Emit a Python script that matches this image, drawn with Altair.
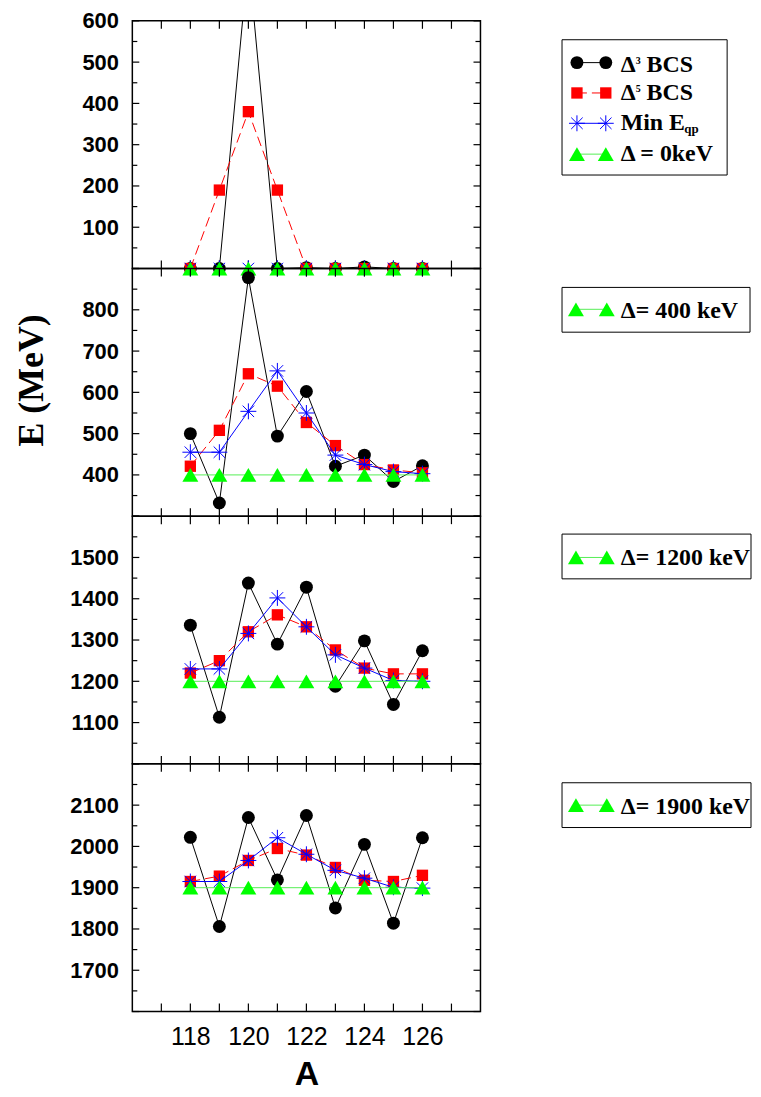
import altair as alt
import pandas as pd

# ---------------- data ----------------
A = [118, 119, 120, 121, 122, 123, 124, 125, 126]

# panel 1 : Delta = 0 keV
p1_d3 = [0, 0, 750, 0, 2, 0, 4, 0, 0]
p1_d5 = [0, 190, 380, 190, 0, 0, 0, 0, 0]
p1_min = [0, 0, 0, 0, 0, 0, 0, 0, 0]
p1_gap = [0, 0, 0, 0, 0, 0, 0, 0, 0]

# panel 2 : Delta = 400 keV
p2_d3 = [500, 332, 878, 494, 602, 421, 448, 384, 422]
p2_d5 = [421, 508, 645, 615, 527, 471, 425, 412, 405]
p2_min = [455, 455, 554, 652, 550, 448, 425, 408, 403]
p2_gap = [400, 400, 400, 400, 400, 400, 400, 400, 400]

# panel 3 : Delta = 1200 keV
p3_d3 = [1336, 1113, 1438, 1290, 1428, 1188, 1298, 1144, 1274]
p3_d5 = [1220, 1250, 1320, 1361, 1332, 1276, 1232, 1218, 1218]
p3_min = [1230, 1230, 1316, 1402, 1332, 1264, 1232, 1202, 1200]
p3_gap = [1200, 1200, 1200, 1200, 1200, 1200, 1200, 1200, 1200]

# panel 4 : Delta = 1900 keV
p4_d3 = [2022, 1806, 2070, 1919, 2075, 1851, 2005, 1814, 2021]
p4_d5 = [1915, 1928, 1966, 1995, 1979, 1949, 1918, 1915, 1930]
p4_min = [1915, 1915, 1966, 2021, 1981, 1942, 1923, 1901, 1899]
p4_gap = [1900, 1900, 1900, 1900, 1900, 1900, 1900, 1900, 1900]

domains = [[0, 600], [300, 900], [1000, 1600], [1600, 2200]]
y_labels = [[100, 200, 300, 400, 500, 600],
            [400, 500, 600, 700, 800],
            [1100, 1200, 1300, 1400, 1500],
            [1700, 1800, 1900, 2000, 2100]]
x_labels = [118, 120, 122, 124, 126]
x_domain = [116, 128]
gap_labels = ["\u0394 = 0keV", "\u0394= 400 keV", "\u0394= 1200 keV", "\u0394= 1900 keV"]

# ---------------- styling ----------------
W, H = 350, 249
STAR = "M-1,0L1,0M0,-1L0,1M-0.72,-0.72L0.72,0.72M-0.72,0.72L0.72,-0.72"
GREEN = "#00ff00"
GREEN_LINE = "#55ee55"
SERIF = "Liberation Serif"
SANS = "Liberation Sans"

series_style = {
    "d3": dict(line=dict(color="black", strokeWidth=1),
               pt=dict(shape="circle", filled=True, color="black", size=169, opacity=1)),
    "d5": dict(line=dict(color="red", strokeWidth=1, strokeDash=[10, 5]),
               pt=dict(shape="square", filled=True, color="red", size=130, opacity=1)),
    "min": dict(line=dict(color="blue", strokeWidth=1),
                pt=dict(shape=STAR, filled=False, color="blue", size=256, strokeWidth=1, opacity=1)),
    "gap": dict(line=dict(color=GREEN_LINE, strokeWidth=1),
                pt=dict(shape="triangle-up", filled=True, color=GREEN, size=256, opacity=1)),
}

one = pd.DataFrame({"k": [0]})


def legend_entry(kind, x1, x2, y):
    st = series_style[kind]
    layers = [alt.Chart(one).mark_rule(clip=False, **st["line"]).encode(
        x=alt.value(x1), x2=alt.value(x2), y=alt.value(y))]
    for xx in (x1, x2):
        layers.append(alt.Chart(one).mark_point(clip=False, **st["pt"]).encode(
            x=alt.value(xx), y=alt.value(y)))
    return layers


def text(t, x, y, size=24, font=SERIF, weight="bold"):
    return alt.Chart(one).mark_text(text=t, font=font, fontSize=size, fontWeight=weight,
                                    align="left", baseline="alphabetic", color="black",
                                    clip=False).encode(x=alt.value(x), y=alt.value(y))


def box(x1, x2, y1, y2):
    return alt.Chart(one).mark_rect(fill="white", stroke="black", strokeWidth=1,
                                    clip=False).encode(
        x=alt.value(x1), x2=alt.value(x2), y=alt.value(y1), y2=alt.value(y2))


def legend_main():
    L = [box(432, 598, 19, 155)]
    L += legend_entry("d3", 447, 476, 42)
    L += [text("\u0394", 491, 51), text("3", 506, 43, size=10), text("BCS", 517, 51)]
    L += legend_entry("d5", 447, 476, 72.5)
    L += [text("\u0394", 491, 80), text("5", 506, 72, size=10), text("BCS", 517, 80)]
    L += legend_entry("min", 447, 476, 103)
    L += [text("Min E", 491, 109.5), text("qp", 555, 113, size=13)]
    L += legend_entry("gap", 447, 476, 134)
    L += [text(gap_labels[0], 491, 141)]
    return L


def legend_gap(label, right, ybox, ytext, ysym):
    L = [box(432, right, ybox, ybox + 45)]
    L += legend_entry("gap", 446, 477, ysym)
    L += [text(label, 491, ytext)]
    return L


def panel(idx, d3, d5, mn, gap, legend_layers, show_x, ytitle):
    lo, hi = domains[idx]
    df = pd.DataFrame({"A": A, "d3": d3, "d5": d5, "min": mn, "gap": gap})
    yscale = alt.Scale(domain=[lo, hi], nice=False, zero=False)
    xscale = alt.Scale(domain=x_domain, nice=False, zero=False)

    yaxis_kw = dict(values=y_labels[idx], format="d", ticks=False, domain=False, grid=False,
                    labelFont=SANS, labelFontWeight="bold", labelFontSize=22,
                    labelPadding=14, labelColor="black", labelBound=False)
    if ytitle:
        yaxis = alt.Axis(title=ytitle, titleFont=SERIF, titleFontSize=36,
                         titleFontWeight="bold", titleColor="black", titleAngle=270,
                         titleX=-90, titleY=112, titleAlign="center",
                         titleBaseline="alphabetic", **yaxis_kw)
    else:
        yaxis = alt.Axis(title=None, **yaxis_kw)

    if show_x:
        xaxis = alt.Axis(values=x_labels, format="d", title="A", ticks=False, domain=False,
                         grid=False, labelFont=SANS, labelFontSize=25, labelPadding=13,
                         labelColor="black", titleFont=SANS, titleFontSize=34,
                         titleFontWeight="bold", titleColor="black", titlePadding=8)
    else:
        xaxis = None

    def X(f):
        return alt.X(f"{f}:Q", scale=xscale, axis=xaxis)

    def Y(f):
        return alt.Y(f"{f}:Q", scale=yscale, axis=yaxis)

    layers = []
    # inward tick marks on all four sides
    y_major = pd.DataFrame({"v": list(range(lo, hi + 1, 100))})
    y_minor = pd.DataFrame({"v": list(range(lo + 50, hi, 100))})
    x_ticks = pd.DataFrame({"t": list(range(x_domain[0] + 1, x_domain[1]))})
    for tdf, ln in ((y_major, 7), (y_minor, 5)):
        for xc in (ln / 2, W - ln / 2):
            layers.append(alt.Chart(tdf).mark_tick(
                color="black", orient="horizontal", size=ln, thickness=1.2, opacity=1
            ).encode(y=Y("v"), x=alt.value(xc)))
    for yc in (4, H - 4):
        layers.append(alt.Chart(x_ticks).mark_tick(
            color="black", orient="vertical", size=8, thickness=1.2, opacity=1
        ).encode(x=X("t"), y=alt.value(yc)))

    base = alt.Chart(df)
    for f in ("d3", "d5", "min", "gap"):
        st = series_style[f]
        layers.append(base.mark_line(clip=True, **st["line"]).encode(x=X("A"), y=Y(f)))
        layers.append(base.mark_point(clip=False, **st["pt"]).transform_filter(
            f"datum['{f}'] <= {hi}").encode(x=X("A"), y=Y(f)))
    layers += legend_layers
    return alt.layer(*layers).properties(width=W, height=H)


p1 = panel(0, p1_d3, p1_d5, p1_min, p1_gap, legend_main(), False, None)
p2 = panel(1, p2_d3, p2_d5, p2_min, p2_gap,
           legend_gap(gap_labels[1], 621, 19, 50, 41), False, "E (MeV)")
p3 = panel(2, p3_d3, p3_d5, p3_min, p3_gap,
           legend_gap(gap_labels[2], 622, 18, 49, 41.5), False, None)
p4 = panel(3, p4_d3, p4_d5, p4_min, p4_gap,
           legend_gap(gap_labels[3], 622, 19, 50, 41.5), True, None)

chart = alt.vconcat(p1, p2, p3, p4, spacing=0, bounds="flush").properties(
    padding={"left": 5, "top": -2, "right": 0, "bottom": 0}
).configure_view(stroke="black", strokeWidth=1.5)

chart.save("out.html", embed_options={"renderer": "svg", "actions": False})
